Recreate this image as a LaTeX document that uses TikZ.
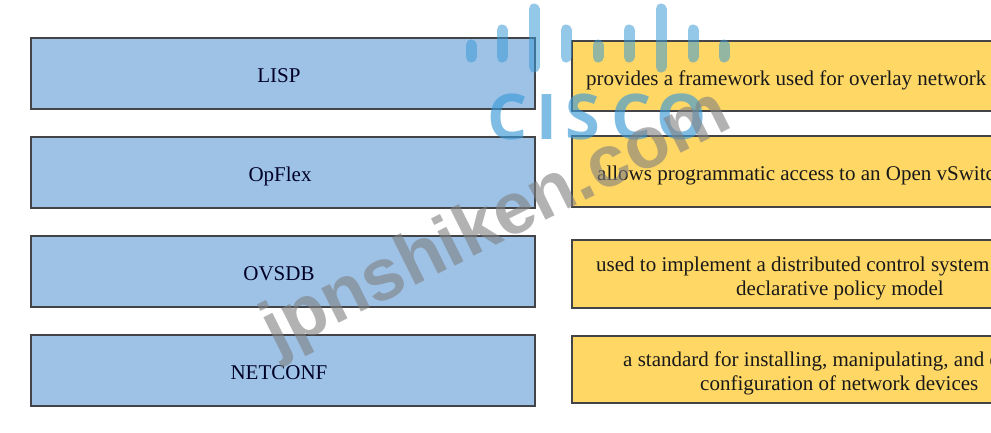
\documentclass[tikz,border=0pt]{standalone}
\usepackage{fontspec}
\setmainfont{Liberation Serif}
\newfontfamily\markfont{Liberation Sans}
\newfontfamily\logofont{Open Sans}
\usetikzlibrary{positioning}
\definecolor{boxblue}{RGB}{157,194,230}
\definecolor{boxyellow}{RGB}{255,215,100}
\definecolor{boxedge}{RGB}{66,68,72}
\definecolor{logoblue}{RGB}{60,155,215}
\tikzset{
	leftbox/.style={draw=boxedge, fill=boxblue, line width=2pt, minimum width=504pt, minimum height=71pt, inner sep=0pt, anchor=north west},
	leftline/.style={inner sep=0pt, anchor=base, font=\fontsize{21}{24}\selectfont, text=black!85!blue},
	rightbox/.style={draw=boxedge, fill=boxyellow, line width=2pt, minimum width=520pt, inner sep=0pt, anchor=north west},
	rightline/.style={inner sep=0pt, anchor=base west, font=\fontsize{21}{24}\selectfont, text=black!90},
	logobar/.style={line width=11pt, line cap=round, color=logoblue, opacity=0.55},
	logoletter/.style={inner sep=0pt, anchor=base, text=logoblue, text opacity=0.65, font=\logofont\bfseries\fontsize{63}{70}\selectfont},
	markword/.style={inner sep=0pt, text=black!50, text opacity=0.6, rotate=26.5, font=\markfont\bfseries\fontsize{73}{76}\selectfont}
}

\begin{document}
\begin{tikzpicture}[x=1pt, y=-1pt]
	\clip (0, 0) rectangle (991, 432);
	\fill[white] (0, 0) rectangle (991, 432);

	% left column
	\node[leftbox] (lispbox) at (29.5, 36.5) {};
	\node[leftbox] (opflexbox) at (29.5, 135.5) {};
	\node[leftbox] (ovsdbbox) at (29.5, 234.5) {};
	\node[leftbox] (netconfbox) at (29.5, 333.5) {};

	\node[leftline] (lisp) at (279, 82) {LISP};
	\node[leftline] (opflex) at (280, 181) {OpFlex};
	\node[leftline] (ovsdb) at (279, 280) {OVSDB};
	\node[leftline] (netconf) at (279, 379) {NETCONF};

	% right column, runs past the page edge
	\node[rightbox, minimum height=70pt] (overlaybox) at (570.5, 39.5) {};
	\node[rightbox, minimum height=71pt] (vswitchbox) at (570.5, 134.5) {};
	\node[rightbox, minimum height=68pt] (policybox) at (570.5, 238.5) {};
	\node[rightbox, minimum height=67pt] (configbox) at (570.5, 334.5) {};

	\node[rightline] (overlaytext) at (586, 85) {provides a framework used for overlay network};
	\node[rightline] (vswitchtext) at (597, 180) {allows programmatic access to an Open vSwitch};
	\node[rightline] (policytext) at (596, 271) {used to implement a distributed control system};
	\node[rightline] (policymore) at (736, 295) {declarative policy model};
	\node[rightline] (configtext) at (623, 366) {a standard for installing, manipulating, and d};
	\node[rightline] (configmore) at (700, 390) {configuration of network devices};

	% logo on top
	\foreach \barx/\bartop/\barend in {471/45/57, 502/30/57, 534/9/67, 566/30/57, 598/45/57, 629/30/57, 661/9/67, 693/30/57, 724/45/57}
		\draw[logobar] (\barx, \bartop) -- (\barx, \barend);
	\foreach \letx/\letter in {508/C, 547/I, 583/S, 632/C, 682/O}
		\node[logoletter] (logo\letter\letx) at (\letx, 139) {\letter};

	\node[markword] (jpnshiken) at (497, 224) {jpnshiken.com};
\end{tikzpicture}
\end{document}
